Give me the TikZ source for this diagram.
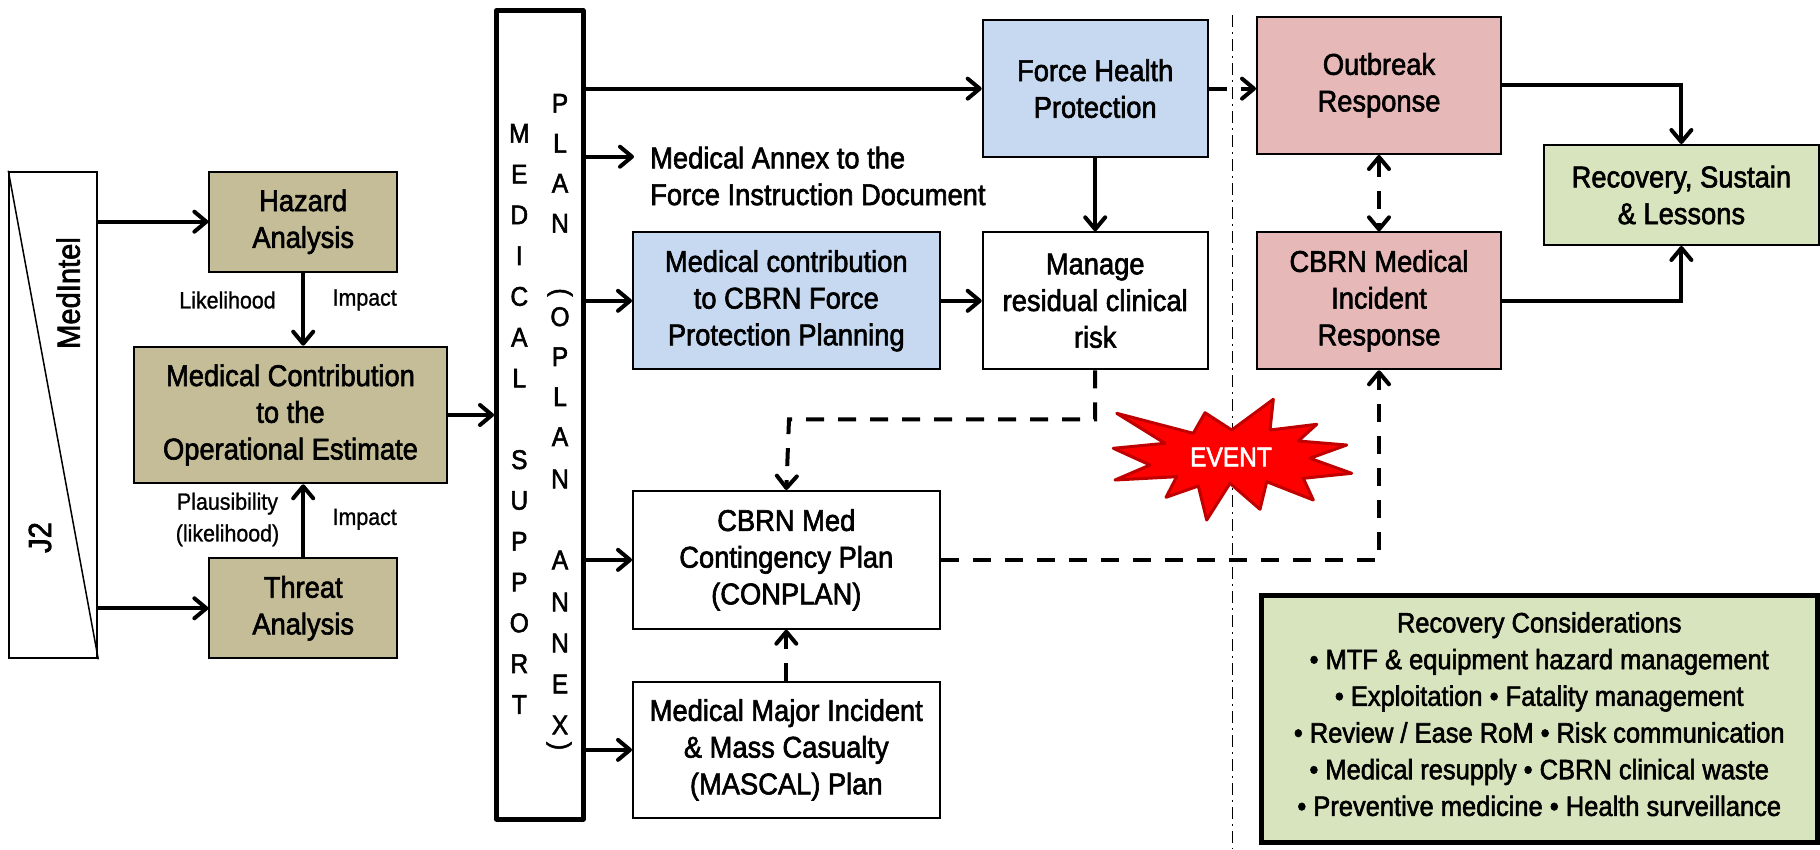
\documentclass[tikz,border=0pt]{standalone}
\usepackage{fontspec}
\setmainfont{Liberation Sans}[FakeStretch=0.91]
\newfontfamily\heavyfam{Liberation Sans}[FakeStretch=0.91, FakeBold=2]
\newfontfamily\labfam{Liberation Sans}[FakeStretch=0.91, FakeBold=1]
\usetikzlibrary{arrows.meta}
\definecolor{tanc}{HTML}{C4BD97}
\definecolor{bluec}{HTML}{C6D9F1}
\definecolor{pinkc}{HTML}{E6B9B8}
\definecolor{greenc}{HTML}{D7E4BD}
\definecolor{evred}{HTML}{C00000}
\newcommand\mainf{\heavyfam\fontsize{30}{36.7}\selectfont}
\newcommand\labf{\labfam\fontsize{23.5}{31.7}\selectfont}
\newcommand\letf{\heavyfam\fontsize{27}{30}\selectfont}
\newcommand\consf{\heavyfam\fontsize{28}{36.7}\selectfont}
\begin{document}
\begin{tikzpicture}[x=1pt,y=-1pt,
  bx/.style={draw, line width=2pt, align=center, inner sep=0pt, font=\mainf},
  lab/.style={font=\labf, inner sep=0pt, align=center},
  letter/.style={font=\letf, inner sep=0pt},
  arr/.style={line width=4pt, -{Straight Barb[length=12pt,width=20pt,round]}},
  darr/.style={arr, dash pattern=on 18pt off 14pt},
  ddarr/.style={line width=4pt, dash pattern=on 18pt off 14pt,
    {Straight Barb[length=12pt,width=20pt,round]}-{Straight Barb[length=12pt,width=20pt,round]}},
  plainln/.style={line width=4pt}]
\useasboundingbox (0,0) rectangle (1820,849);

% dash-dot separator
\draw[line width=1.5pt, dash pattern=on 12pt off 5pt on 2pt off 5pt] (1232.3,15) -- (1232.3,849);

% J2 / MedIntel
\node[draw, line width=2pt, minimum width=88pt, minimum height=486.6pt, inner sep=0pt] (j2) at (53.3,415) {};
\draw[line width=1.5pt] (j2.north west) -- (j2.south east);
\node[font=\heavyfam\fontsize{32}{36}\selectfont, rotate=90, inner sep=0pt] (medintel) at (68.3,293) {MedIntel};
\node[font=\heavyfam\fontsize{32}{36}\selectfont, rotate=90, inner sep=0pt] (j2t) at (40,537.5) {J2};

% left column
\node[bx, fill=tanc, minimum width=187.7pt, minimum height=100pt] (hazard) at (303.2,221.7) {Hazard\\Analysis};
\node[bx, fill=tanc, minimum width=312.4pt, minimum height=136.6pt] (medc) at (290.5,415) {Medical Contribution\\to the\\Operational Estimate};
\node[bx, fill=tanc, minimum width=187.7pt, minimum height=100pt] (threat) at (303.2,608.3) {Threat\\Analysis};

\node[lab] (lk) at (227.5,300) {Likelihood};
\node[lab] (im1) at (364.7,300) {Impact};
\node[lab] (pl) at (227.5,519.5) {Plausibility\\(likelihood)};
\node[lab] (im2) at (364.7,519.3) {Impact};

% big vertical box
\node[draw, line width=5pt, line join=round, minimum width=86.5pt, minimum height=808.5pt, inner sep=0pt] (big) at (539.75,414.75) {};
\foreach \ch/\yy [count=\k] in {M/133.3, E/174.1, D/214.9, I/255.7, C/296.5, A/337.3, L/378.1, S/459.7, U/500.5, P/541.3, P/582.1, O/622.9, R/663.7, T/704.5}
  \node[letter] (ms\k) at (519.3,\yy) {\ch};
\foreach \ch/\yy [count=\k] in {P/103.3, L/143.3, A/183.3, N/223.3, O/316.7, P/356.7, L/396.7, A/436.7, N/479, A/560, N/602, N/643, E/684, X/725}
  \node[letter] (pa\k) at (560,\yy) {\ch};
\node[letter, rotate=-90] (lpar) at (560,292.5) {(};
\node[letter, rotate=-90] (rpar) at (559,746) {)};

% middle column
\node[bx, fill=bluec, minimum width=225pt, minimum height=137.3pt] (fhp) at (1095.2,88.65) {Force Health\\Protection};
\node[font=\mainf, align=left, anchor=west, inner sep=0pt] (annex) at (650,176) {Medical Annex to the\\Force Instruction Document};
\coordinate (annexin) at (634,156.7);
\node[bx, fill=bluec, minimum width=306.6pt, minimum height=137pt] (cbrnfp) at (786.3,300.8) {Medical contribution\\to CBRN Force\\Protection Planning};
\node[bx, fill=white, minimum width=225pt, minimum height=137pt] (manage) at (1095.2,300.8) {Manage\\residual clinical\\risk};
\node[bx, fill=white, minimum width=306.6pt, minimum height=137.7pt] (conplan) at (786.3,559.85) {CBRN Med\\Contingency Plan\\(CONPLAN)};
\node[bx, fill=white, minimum width=306.6pt, minimum height=136.3pt] (mascal) at (786.3,749.85) {Medical Major Incident\\\& Mass Casualty\\(MASCAL) Plan};

% right column
\node[bx, fill=pinkc, minimum width=244pt, minimum height=137.3pt] (outbreak) at (1379,85.35) {Outbreak\\Response};
\node[bx, fill=pinkc, minimum width=244pt, minimum height=137pt] (cbrnmed) at (1379,300.8) {CBRN Medical\\Incident\\Response};
\node[bx, fill=greenc, minimum width=274.2pt, minimum height=100pt] (recovery) at (1681.4,195) {Recovery, Sustain\\\& Lessons};
\node[draw, line width=5pt, fill=greenc, minimum width=555.5pt, minimum height=246.7pt, inner sep=0pt] (reccons) at (1539.25,719.15) {};
\node[font=\consf, align=center, inner sep=0pt] (rctext) at ([yshift=5pt]reccons.center) {Recovery Considerations\\%
• MTF \& equipment hazard management\\%
• Exploitation • Fatality management\\%
• Review / Ease RoM • Risk communication\\%
• Medical resupply • CBRN clinical waste\\%
• Preventive medicine • Health surveillance};

% connectors left
\draw[arr] (hazard.west -| j2.east) -- (hazard.west);
\draw[arr] (threat.west -| j2.east) -- (threat.west);
\draw[arr] (hazard.south) -- (hazard.south |- medc.north);
\draw[arr] (threat.north) -- (threat.north |- medc.south);
\draw[arr] (medc.east) -- (medc.east -| big.west);

% connectors from big box
\draw[arr] (fhp.west -| big.east) -- (fhp.west);
\draw[arr] (annexin -| big.east) -- (annexin);
\draw[arr] (cbrnfp.west -| big.east) -- (cbrnfp.west);
\draw[arr] (conplan.west -| big.east) -- (conplan.west);
\draw[arr] (mascal.west -| big.east) -- (mascal.west);

% middle connectors
\draw[arr] (cbrnfp.east) -- (manage.west);
\draw[arr] (fhp.south) -- (manage.north);
\draw[darr] (fhp.east) -- (fhp.east -| outbreak.west);
\coordinate (mc) at (789,419.3);
\draw[darr] (manage.south) |- (mc) -- (conplan.north);
\draw[darr] (mascal.north) -- (conplan.south);
\draw[darr] (conplan.east) -| (cbrnmed.south);
\draw[ddarr] (outbreak.south) -- (cbrnmed.north);
\draw[arr] (outbreak.east) -| (recovery.north);
\draw[arr] (cbrnmed.east) -| (recovery.south);

% EVENT star
\filldraw[fill=red, draw=evred, line width=3pt, line join=round]
 (1273.3,399.3) -- (1270,430) -- (1316.7,424.3) -- (1298.3,441) -- (1346.7,445) -- (1310,458.3)
 -- (1351.7,473.3) -- (1303.3,478.3) -- (1313.3,500) -- (1266.7,481.7) -- (1260,509.3) -- (1230,483.3)
 -- (1206.7,520) -- (1198.3,486) -- (1166,497.3) -- (1176.7,476.7) -- (1115,480) -- (1150,465)
 -- (1113.3,448.3) -- (1165,443.3) -- (1116.7,413.3) -- (1193.3,433.3) -- (1205,412.7) -- (1231.7,430) -- cycle;
\node[font=\heavyfam\fontsize{27}{30}\selectfont, text=white, inner sep=0pt] (ev) at (1231,457) {EVENT};
\end{tikzpicture}
\end{document}
